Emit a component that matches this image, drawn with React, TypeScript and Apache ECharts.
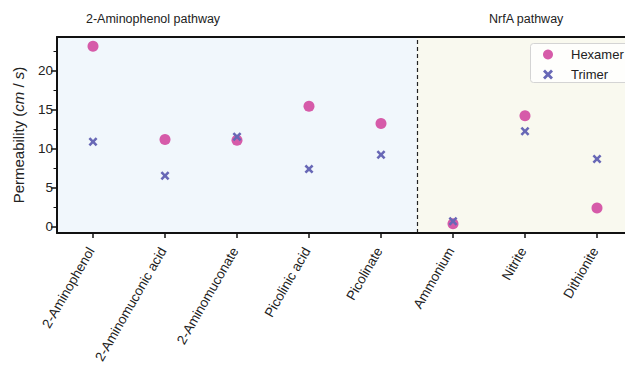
import React, { useEffect, useRef } from "react";
import * as echarts from "echarts";

const categories = [
  "2-Aminophenol",
  "2-Aminomuconic acid",
  "2-Aminomuconate",
  "Picolinic acid",
  "Picolinate",
  "Ammonium",
  "Nitrite",
  "Dithionite",
];
const hexamer = [23.1, 11.15, 11.05, 15.4, 13.2, 0.35, 14.2, 2.35];
const trimer = [10.85, 6.5, 11.5, 7.35, 9.2, 0.65, 12.2, 8.65];
const yTicks = [0, 5, 10, 15, 20];
const yMinorTicks = [2.5, 7.5, 12.5, 17.5, 22.5];
const pathwayTitles = ["2-Aminophenol pathway", "NrfA pathway"];
const pathwaySplit = 4.5;

const FONT = "Liberation Sans, Arial, Helvetica, sans-serif";
const PINK = "#d65ba9";
const PURPLE = "#6868b6";
const X_PATH =
  "path://M2,0 L5,3 L8,0 L10,2 L7,5 L10,8 L8,10 L5,7 L2,10 L0,8 L3,5 L0,2 Z";

const GRID_LEFT = 57;
const GRID_TOP = 37;
const GRID_W = 576;
const GRID_H = 196;

export default function App() {
  const ref = useRef<HTMLDivElement>(null);
  useEffect(() => {
    if (!ref.current) return;
    const chart = echarts.init(ref.current, undefined, { renderer: "svg" });
    const yMin = -0.85;
    const yMax = 24.3;
    chart.setOption({
      animation: false,
      textStyle: { fontFamily: FONT },
      title: [
        {
          text: pathwayTitles[0],
          left: 86,
          top: 12,
          padding: 0,
          textStyle: { fontSize: 12.5, fontWeight: "normal", color: "#222", fontFamily: FONT },
        },
        {
          text: pathwayTitles[1],
          left: 489,
          top: 12,
          padding: 0,
          textStyle: { fontSize: 12.5, fontWeight: "normal", color: "#222", fontFamily: FONT },
        },
      ],
      graphic: [
        {
          type: "rect",
          z: 3,
          silent: true,
          shape: { x: 530.5, y: 43.5, width: 110, height: 39, r: 3 },
          style: { fill: "rgba(255,255,255,0.8)", stroke: "#d4d4d4", lineWidth: 1 },
        },
      ],
      legend: {
        orient: "vertical",
        left: 543,
        top: 48,
        padding: 0,
        itemWidth: 10,
        itemHeight: 11,
        itemGap: 7,
        z: 5,
        textStyle: {
          fontSize: 13,
          color: "#222",
          fontFamily: FONT,
          padding: [0, 0, 0, 13],
        },
        data: ["Hexamer", "Trimer"],
      },
      grid: {
        left: GRID_LEFT,
        top: GRID_TOP,
        width: GRID_W,
        height: GRID_H,
        show: false,
        outerBoundsMode: "none",
        containLabel: false,
      },
      xAxis: [
        {
          type: "category",
          data: categories,
          boundaryGap: true,
          z: 5,
          axisLine: { show: true, onZero: false, lineStyle: { color: "#111", width: 2 } },
          axisTick: { show: true, alignWithLabel: true, length: 5, lineStyle: { color: "#111", width: 1.5 } },
          axisLabel: {
            rotate: 60,
            margin: 12,
            padding: [0, 4, 0, 0],
            fontSize: 13.5,
            color: "#222",
            fontFamily: FONT,
            interval: 0,
          },
          splitLine: { show: false },
        },
        {
          type: "value",
          min: -0.5,
          max: 7.5,
          position: "top",
          z: 5,
          axisLine: { show: true, onZero: false, lineStyle: { color: "#111", width: 2 } },
          axisTick: { show: false },
          axisLabel: { show: false },
          splitLine: { show: false },
        },
      ],
      yAxis: [
        {
          type: "value",
          min: yMin,
          max: yMax,
          position: "left",
          z: 5,
          name: "Permeability ({i|cm} / {i|s})",
          nameLocation: "middle",
          nameGap: 31,
          nameTextStyle: {
            fontSize: 15,
            color: "#222",
            fontFamily: FONT,
            rich: { i: { fontSize: 15, fontStyle: "italic", color: "#222", fontFamily: FONT } },
          },
          axisLine: { show: true, onZero: false, lineStyle: { color: "#111", width: 2 } },
          axisTick: {
            show: true,
            length: 6,
            customValues: yTicks,
            lineStyle: { color: "#111", width: 1.5 },
          },
          axisLabel: {
            customValues: yTicks,
            fontSize: 13.5,
            color: "#222",
            margin: 4,
            fontFamily: FONT,
          },
          splitLine: { show: false },
        },
        {
          type: "value",
          min: yMin,
          max: yMax,
          position: "right",
          offset: -GRID_W,
          z: 5,
          axisLine: { show: false, onZero: false },
          axisTick: {
            show: true,
            inside: true,
            length: 3.5,
            customValues: yMinorTicks,
            lineStyle: { color: "#111", width: 1 },
          },
          axisLabel: { show: false },
          splitLine: { show: false },
        },
      ],
      series: [
        {
          name: "bg",
          type: "line",
          xAxisIndex: 1,
          yAxisIndex: 0,
          data: [],
          silent: true,
          z: 0,
          markArea: {
            silent: true,
            data: [
              [{ xAxis: -0.5, itemStyle: { color: "#f1f7fc" } }, { xAxis: pathwaySplit }],
              [{ xAxis: pathwaySplit, itemStyle: { color: "#f9f9ef" } }, { xAxis: 7.5 }],
            ],
          },
          markLine: {
            silent: true,
            symbol: ["none", "none"],
            label: { show: false },
            lineStyle: { color: "#222", width: 1.2, type: [4, 3] },
            data: [{ xAxis: pathwaySplit }],
          },
        },
        {
          name: "Hexamer",
          type: "scatter",
          data: hexamer,
          symbol: "circle",
          symbolSize: 11,
          itemStyle: { color: PINK, opacity: 1 },
          z: 3,
        },
        {
          name: "Trimer",
          type: "scatter",
          data: trimer,
          symbol: X_PATH,
          symbolSize: 9,
          itemStyle: { color: PURPLE, opacity: 1 },
          z: 4,
        },
      ],
    });
    return () => chart.dispose();
  }, []);
  return (
    <div
      ref={ref}
      style={{ position: "absolute", left: 0, top: 0, width: 625, height: 365, background: "#fff" }}
    />
  );
}
